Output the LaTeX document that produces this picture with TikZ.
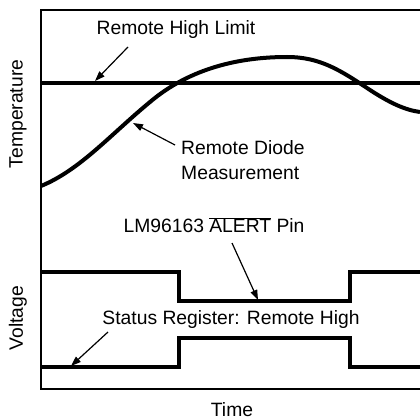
\documentclass[tikz,border=0pt]{standalone}
\usepackage{fontspec}
\setmainfont{Liberation Sans}
\usetikzlibrary{arrows.meta}
\tikzset{
  frame/.style={line width=1.3pt},
  sig/.style={line width=4pt},
  pointer/.style={line width=1.2pt,-{Triangle[length=10pt,width=7pt]}},
  lbl/.style={inner sep=0pt,font=\fontsize{19.3}{25}\selectfont}
}
\begin{document}
\begin{tikzpicture}[x=1pt,y=-1pt]
\useasboundingbox (0,0) rectangle (420,420);
% frames
\draw[frame] (420,10) -- (41,10) -- (41,389) -- (420,389);
% remote high limit
\draw[sig] (41,83) -- (420,83);
% measurement curve
\draw[sig] (41,186) .. controls (80,170) and (110,135) .. (150,102)
  .. controls (190,68) and (240,57) .. (287,57)
  .. controls (320,57) and (340,70) .. (370,90)
  .. controls (390,103) and (405,110) .. (420,112);
% ALERT pin
\draw[sig] (41,272) -- (179,272) -- (179,301) -- (350,301) -- (350,272) -- (420,272);
% Status register
\draw[sig] (41,367) -- (179,367) -- (179,338) -- (350,338) -- (350,367) -- (420,367);
% labels
\node[lbl] (limit) at (176,30) {Remote High Limit};
\node[lbl,anchor=west,align=left] (diode) at (181,160) {Remote Diode\\Measurement};
\node[lbl] (alert) at (214,225) {LM96163 $\overline{\mbox{ALERT}}$ Pin};
\node[lbl] (status) at (231,320) {Status Register: Remote High};
\node[lbl,rotate=90] (temp) at (18,114) {Temperature};
\node[lbl,rotate=90] (volt) at (18,318) {Voltage};
\node[lbl] (time) at (232,410) {Time};
% pointers
\coordinate (limitA) at (128,47);
\coordinate (limitB) at (95,81);
\coordinate (diodeA) at (175,145);
\coordinate (diodeB) at (133,123);
\coordinate (alertA) at (232,243);
\coordinate (alertB) at (258,300);
\coordinate (statusA) at (108,332);
\coordinate (statusB) at (71,366);
\draw[pointer] (limitA) -- (limitB);
\draw[pointer] (diodeA) -- (diodeB);
\draw[pointer] (alertA) -- (alertB);
\draw[pointer] (statusA) -- (statusB);
\end{tikzpicture}
\end{document}
